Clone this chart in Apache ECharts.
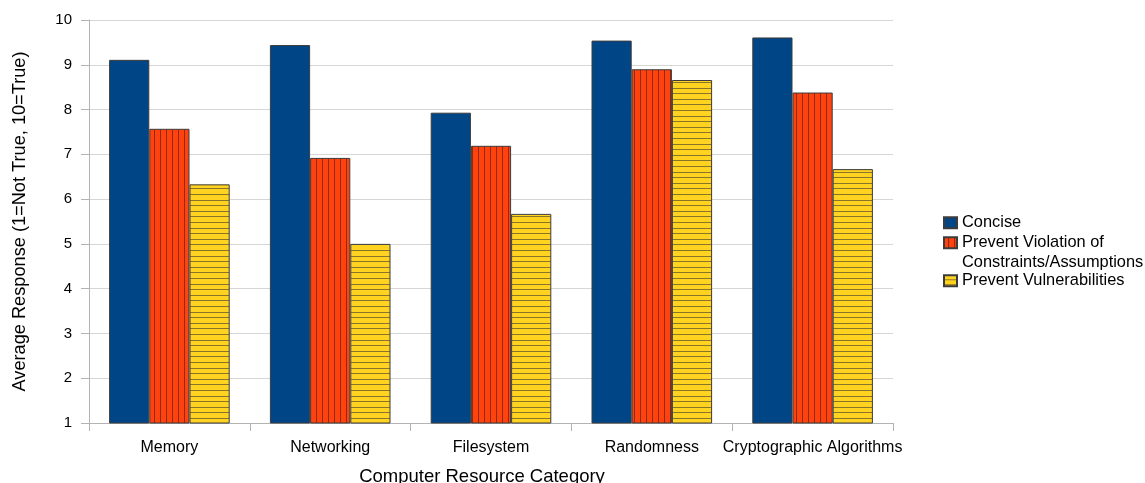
<!DOCTYPE html>
<html>
<head>
<meta charset="utf-8">
<script src="https://cdn.jsdelivr.net/npm/echarts@6/dist/echarts.min.js"></script>
<style>
  html, body { margin: 0; padding: 0; background: #fff; }
  #chart { width: 1145px; height: 483px; }
</style>
</head>
<body>
<div id="chart"></div>
<script>
// Survey categories and average responses per criterion
const categories = ['Memory', 'Networking', 'Filesystem', 'Randomness', 'Cryptographic Algorithms'];
const seriesNames = ['Concise', 'Prevent Violation of\nConstraints/Assumptions', 'Prevent Vulnerabilities'];
const concise = [9.11, 9.44, 7.93, 9.54, 9.61];
const preventViolation = [7.57, 6.92, 7.19, 8.90, 8.38];
const preventVulnerabilities = [6.33, 5.00, 5.67, 8.66, 6.67];
const yTicks = [1, 10, 1]; // min, max, step

const FONT = 'Liberation Sans';

// Hatch fills: vertical stripes for the second series, horizontal for the third
function vStripes(bg, line) {
  const c = document.createElement('canvas');
  c.width = 6; c.height = 6;
  const g = c.getContext('2d');
  g.fillStyle = bg; g.fillRect(0, 0, 6, 6);
  g.fillStyle = line; g.fillRect(4, 0, 1, 6);
  return c;
}
function hStripes(bg, line) {
  const c = document.createElement('canvas');
  c.width = 8; c.height = 28;
  const g = c.getContext('2d');
  g.fillStyle = bg; g.fillRect(0, 0, 8, 28);
  g.fillStyle = line;
  [4, 9, 15, 20, 26].forEach(y => g.fillRect(0, y, 8, 1));
  return c;
}

const fills = [
  '#004586',
  { image: vStripes('#ff420e', '#8c2c10'), repeat: 'repeat' },
  { image: hStripes('#ffd320', '#8a7428'), repeat: 'repeat' }
];
const values = [concise, preventViolation, preventVulnerabilities];

const chart = echarts.init(document.getElementById('chart'), null, { renderer: 'canvas' });

// One legend block per series so the two-line entry keeps its swatch on the first line
function legendAt(name, top, formatter) {
  const cfg = {
    data: [name],
    orient: 'vertical',
    left: 943,
    top: top,
    padding: 0,
    icon: 'rect',
    itemWidth: 13,
    itemHeight: 11,
    itemGap: 0,
    selectedMode: false,
    textStyle: { fontFamily: FONT, fontSize: 16.4, color: '#000', lineHeight: 19.5 }
  };
  if (formatter) cfg.formatter = formatter;
  return cfg;
}

chart.setOption({
  animation: false,
  backgroundColor: '#fff',
  textStyle: { fontFamily: FONT },
  grid: { left: 89, right: 252, top: 20, bottom: 60, containLabel: false, outerBoundsMode: 'none' },
  legend: [
    legendAt(seriesNames[0], 213),
    legendAt(seriesNames[1], 213.5, n => '\n' + n),
    legendAt(seriesNames[2], 271)
  ],
  xAxis: {
    type: 'category',
    data: categories,
    name: 'Computer Resource Category',
    nameLocation: 'middle',
    nameGap: 44,
    nameTextStyle: { fontFamily: FONT, fontSize: 18.5, color: '#000', padding: [0, 18, 0, 0] },
    axisLine: { lineStyle: { color: '#b3b3b3', width: 1 } },
    axisTick: { show: true, length: 8, lineStyle: { color: '#b3b3b3' } },
    axisLabel: { fontFamily: FONT, fontSize: 16, color: '#000', margin: 17, interval: 0 },
    splitLine: { show: false }
  },
  yAxis: {
    type: 'value',
    min: yTicks[0],
    max: yTicks[1],
    interval: yTicks[2],
    name: 'Average Response (1=Not True, 10=True)',
    nameLocation: 'middle',
    nameGap: 60,
    nameTextStyle: { fontFamily: FONT, fontSize: 18.2, color: '#000' },
    axisLine: { show: true, lineStyle: { color: '#b3b3b3', width: 1 } },
    axisTick: { show: true, length: 8, lineStyle: { color: '#b3b3b3' } },
    axisLabel: { fontFamily: FONT, fontSize: 15, color: '#000', margin: 17 },
    splitLine: { show: true, lineStyle: { color: '#d6d6d6', width: 1 } }
  },
  series: seriesNames.map((name, i) => ({
    name: name,
    type: 'bar',
    data: values[i],
    barGap: '0%',
    barCategoryGap: '25%',
    itemStyle: { color: fills[i], borderColor: '#3c3c3c', borderWidth: 1 }
  }))
});
</script>
</body>
</html>
